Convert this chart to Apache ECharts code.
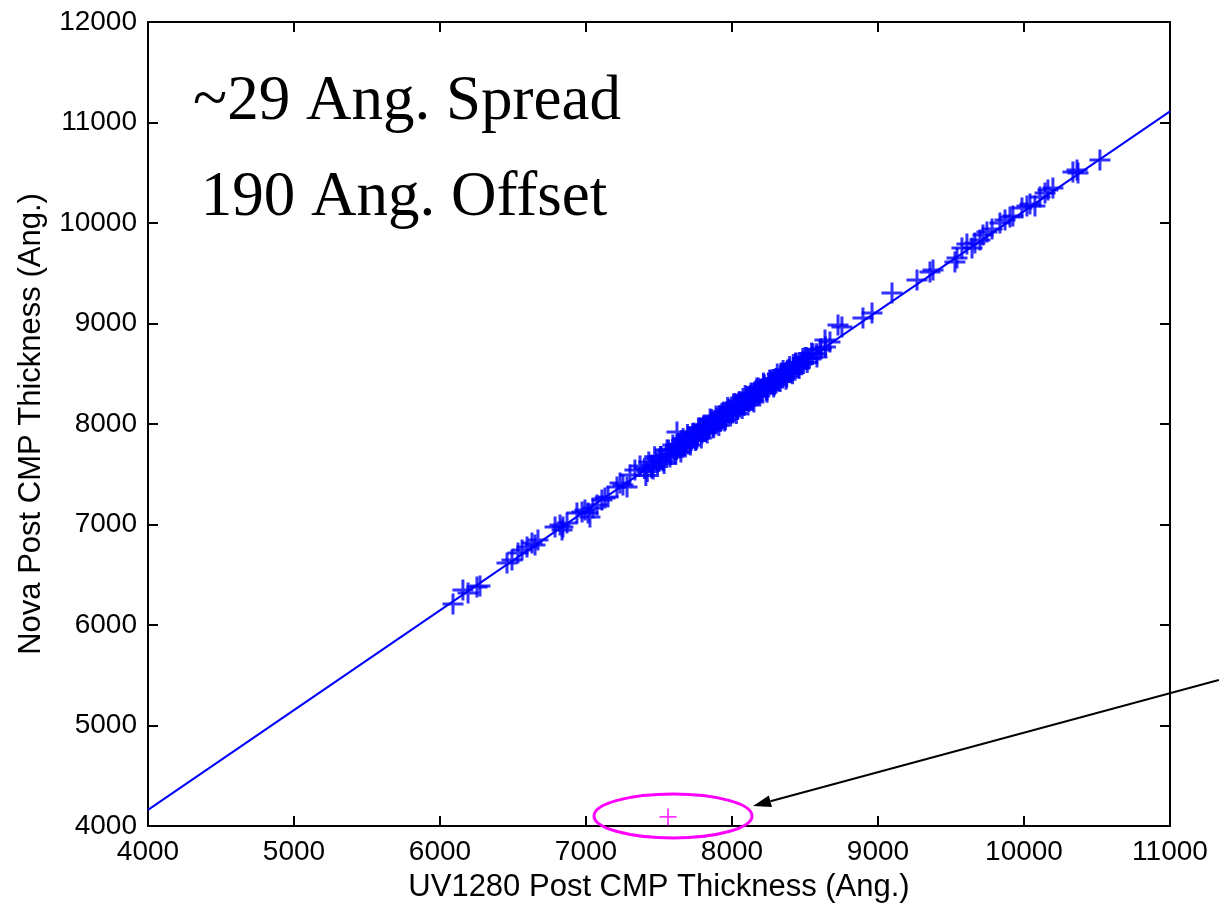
<!DOCTYPE html>
<html>
<head>
<meta charset="utf-8">
<script src="https://cdn.jsdelivr.net/npm/echarts@6/dist/echarts.min.js"></script>
<style>
  html, body { margin: 0; padding: 0; background: #fff; }
  #chart { width: 1219px; height: 911px; }
</style>
</head>
<body>
<div id="chart"></div>
<script>
// UV1280 (x) vs Nova (y) post-CMP thickness, Angstrom

// lower tail
const lowX = [6089, 6157, 6192, 6253, 6274, 6459, 6493, 6534, 6562, 6596, 6630, 6651, 6671,
  6788, 6822, 6842, 6870, 6836, 6938, 6973, 6993, 7014, 7027, 7048, 7075, 7109, 7130, 7151,
  7212, 7233, 7253, 7281, 7301, 7335, 7370];
const lowY = [6209, 6348, 6318, 6378, 6388, 6617, 6647, 6716, 6746, 6776, 6816, 6796, 6846,
  6975, 6995, 6975, 7015, 6945, 7114, 7124, 7144, 7114, 7075, 7164, 7194, 7244, 7264, 7274,
  7373, 7413, 7393, 7373, 7492, 7542, 7582];

// dense core 7400 - 8650
const coreX = [7400, 7420, 7445, 7460, 7480, 7500, 7515, 7530, 7550, 7565, 7580, 7600, 7610,
  7623, 7625, 7640, 7655, 7670, 7685, 7700, 7710, 7725, 7740, 7755, 7765, 7780, 7795, 7805,
  7820, 7835, 7845, 7860, 7875, 7885, 7900, 7915, 7925, 7940, 7955, 7965, 7980, 7995, 8005,
  8020, 8035, 8045, 8060, 8075, 8085, 8100, 8115, 8125, 8140, 8155, 8165, 8180, 8195, 8210,
  8220, 8235, 8250, 8265, 8280, 8290, 8305, 8320, 8335, 8345, 8360, 8375, 8390, 8405, 8420,
  8440, 8455, 8470, 8490, 8510, 8530, 8555, 8580, 8610, 8640];
const coreY = [7558, 7528, 7593, 7552, 7652, 7627, 7677, 7632, 7692, 7742, 7696, 7751, 7706,
  7920, 7791, 7771, 7836, 7781, 7831, 7801, 7866, 7851, 7910, 7845, 7905, 7940, 7910, 7980,
  7925, 7980, 7975, 8025, 7970, 8035, 8019, 8084, 8034, 8079, 8044, 8124, 8104, 8169, 8109,
  8169, 8149, 8209, 8188, 8253, 8183, 8243, 8233, 8283, 8233, 8293, 8333, 8288, 8343, 8332,
  8392, 8337, 8402, 8392, 8442, 8387, 8447, 8432, 8502, 8467, 8506, 8466, 8546, 8521, 8556,
  8601, 8561, 8611, 8601, 8661, 8655, 8700, 8700, 8750, 8765];

// core, band edges
const edgeX = [7410, 7430, 7450, 7470, 7490, 7510, 7535, 7555, 7575, 7595, 7615, 7635, 7650,
  7665, 7680, 7695, 7715, 7730, 7750, 7770, 7790, 7810, 7830, 7850, 7870, 7890, 7910, 7930,
  7950, 7970, 7990, 8010, 8030, 8050, 8070, 8090, 8110, 8130, 8150, 8170, 8190, 8215, 8240,
  8260, 8285, 8310, 8330, 8350, 8370, 8395, 8415, 8435, 8460, 8485, 8515, 8545];
const edgeY = [7488, 7623, 7563, 7673, 7577, 7677, 7607, 7742, 7672, 7792, 7697, 7796, 7721,
  7856, 7771, 7896, 7791, 7906, 7835, 7960, 7860, 7990, 7910, 8050, 7960, 8080, 7984, 8104,
  8029, 8164, 8079, 8199, 8104, 8224, 8153, 8283, 8188, 8308, 8218, 8358, 8278, 8407, 8317,
  8437, 8367, 8497, 8422, 8532, 8446, 8571, 8501, 8606, 8551, 8651, 8611, 8706];

// core, middle of the band
const midX = [7620, 7640, 7660, 7680, 7700, 7720, 7740, 7760, 7780, 7800, 7820, 7840, 7860,
  7880, 7900, 7920, 7940, 7960, 7980, 8000, 8020, 8040, 8060, 8080, 8100, 8120, 8140, 8160,
  8180, 8200, 8220, 8240, 8260, 8280, 8300, 8320, 8340, 8360, 8380, 8400, 8420, 8440, 8460,
  8480, 8500, 8520];
const midY = [7746, 7801, 7766, 7821, 7876, 7836, 7891, 7860, 7960, 7935, 7980, 7950, 8045,
  8005, 8054, 8024, 8119, 8089, 8144, 8114, 8204, 8144, 8213, 8208, 8273, 8228, 8303, 8278,
  8358, 8333, 8377, 8342, 8432, 8402, 8452, 8427, 8507, 8486, 8536, 8511, 8591, 8571, 8611,
  8596, 8661, 8651];

// upper tail
const highX = [8582, 8603, 8637, 8671, 8726, 8753, 8897, 8959, 9096, 9267, 9356, 9377, 9527,
  9541, 9575, 9609, 9644, 9664, 9698, 9719, 9746, 9781, 9835, 9870, 9904, 9924, 9986, 10020,
  10041, 10075, 10109, 10144, 10164, 10198, 10335, 10363, 10370, 10520];
const highY = [8667, 8736, 8836, 8816, 8985, 8965, 9055, 9104, 9303, 9433, 9512, 9532, 9612,
  9652, 9751, 9791, 9751, 9801, 9831, 9880, 9910, 9940, 10000, 10030, 10060, 10069, 10149, 10169,
  10189, 10169, 10259, 10298, 10328, 10348, 10507, 10527, 10497, 10627];

// flagged outlier
const outlierX = [7562];
const outlierY = [4090];

// fitted line
const fitX = [4000, 11000];
const fitY = [4160, 11110];

// annotation anchors (data coords)
const ellipseCenter = [7596, 4100];
const arrowTail = [11335, 5453];
const arrowTip = [8144, 4199];

const xTicks = [4000, 11000, 1000];
const yTicks = [4000, 12000, 1000];

const zip = (xs, ys) => xs.map((x, i) => [x, ys[i]]);
const mainPts = zip(lowX, lowY).concat(
  zip(coreX, coreY), zip(edgeX, edgeY), zip(midX, midY), zip(highX, highY));

const PLUS = 'path://M0,10 L20,10 M10,0 L10,20';
const BLUE = '#0000ff';
const MAGENTA = '#ff00ff';
const SANS = 'Liberation Sans, Arial, sans-serif';
const SERIF = '63px "Liberation Serif", "Times New Roman", serif';

const axisBase = {
  type: 'value',
  splitLine: { show: false },
  axisLine: { show: true, onZero: false, lineStyle: { color: '#000', width: 2 } },
  axisTick: { show: true, inside: true, length: 10, lineStyle: { color: '#000', width: 2 } }
};
const labelStyle = { color: '#000', fontSize: 28, fontFamily: SANS, formatter: v => String(v) };
const nameStyle = { color: '#000', fontSize: 31, fontFamily: SANS };

const chart = echarts.init(document.getElementById('chart'));

const option = {
  animation: false,
  backgroundColor: '#fff',
  grid: { left: 148, right: 49, top: 22, bottom: 85 },
  xAxis: [
    Object.assign({}, axisBase, {
      position: 'bottom', min: xTicks[0], max: xTicks[1], interval: xTicks[2],
      axisLabel: Object.assign({ margin: 12 }, labelStyle),
      name: 'UV1280 Post CMP Thickness (Ang.)',
      nameLocation: 'middle', nameGap: 46,
      nameTextStyle: nameStyle
    }),
    Object.assign({}, axisBase, {
      position: 'top', min: xTicks[0], max: xTicks[1], interval: xTicks[2],
      axisLabel: { show: false }
    })
  ],
  yAxis: [
    Object.assign({}, axisBase, {
      position: 'left', min: yTicks[0], max: yTicks[1], interval: yTicks[2],
      axisLabel: Object.assign({ margin: 11 }, labelStyle),
      name: 'Nova Post CMP Thickness (Ang.)',
      nameLocation: 'middle', nameGap: 101,
      nameTextStyle: nameStyle
    }),
    Object.assign({}, axisBase, {
      position: 'right', min: yTicks[0], max: yTicks[1], interval: yTicks[2],
      axisLabel: { show: false }
    })
  ],
  series: [
    {
      name: 'wafers',
      type: 'scatter',
      symbol: PLUS,
      symbolSize: 21,
      data: mainPts,
      itemStyle: { color: BLUE, borderColor: BLUE, borderWidth: 3 },
      z: 3
    },
    {
      name: 'fit',
      type: 'line',
      data: zip(fitX, fitY),
      showSymbol: false,
      lineStyle: { color: BLUE, width: 2 },
      z: 2
    },
    {
      name: 'outlier',
      type: 'scatter',
      symbol: PLUS,
      symbolSize: 17,
      data: zip(outlierX, outlierY),
      itemStyle: { color: MAGENTA, borderColor: MAGENTA, borderWidth: 1.8 },
      z: 4
    }
  ]
};

chart.setOption(option);

// annotations: ellipse round the outlier, arrow pointing at it, two text lines
function drawNotes() {
  const c = chart.convertToPixel({ seriesIndex: 0 }, ellipseCenter);
  const tail = chart.convertToPixel({ seriesIndex: 0 }, arrowTail);
  const tip = chart.convertToPixel({ seriesIndex: 0 }, arrowTip);

  const dx = tip[0] - tail[0], dy = tip[1] - tail[1];
  const len = Math.sqrt(dx * dx + dy * dy);
  const ux = dx / len, uy = dy / len;
  const headLen = 18, headHalf = 6;
  const bx = tip[0] - ux * headLen, by = tip[1] - uy * headLen;

  chart.setOption({
    graphic: [
      {
        type: 'ellipse', z: 10,
        shape: { cx: c[0], cy: c[1], rx: 79, ry: 22 },
        style: { fill: 'none', stroke: MAGENTA, lineWidth: 3 }
      },
      {
        type: 'line', z: 10,
        shape: { x1: tail[0], y1: tail[1], x2: bx, y2: by },
        style: { stroke: '#000', lineWidth: 2 }
      },
      {
        type: 'polygon', z: 10,
        shape: { points: [tip, [bx - uy * headHalf, by + ux * headHalf], [bx + uy * headHalf, by - ux * headHalf]] },
        style: { fill: '#000' }
      },
      {
        type: 'text', z: 10, x: 407, y: 102,
        style: { text: '~29 Ang. Spread', fill: '#000', font: SERIF, textAlign: 'center', textVerticalAlign: 'middle' }
      },
      {
        type: 'text', z: 10, x: 404, y: 198,
        style: { text: '190 Ang. Offset', fill: '#000', font: SERIF, textAlign: 'center', textVerticalAlign: 'middle' }
      }
    ]
  });
}

drawNotes();
</script>
</body>
</html>
